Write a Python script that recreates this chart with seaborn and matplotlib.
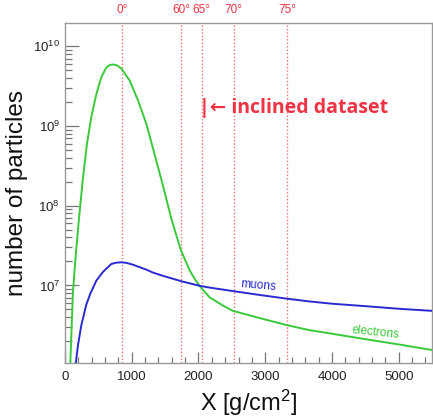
import numpy as np
import pandas as pd
import matplotlib
matplotlib.use("Agg")
import matplotlib.pyplot as plt
import seaborn as sns
from matplotlib.ticker import MultipleLocator, LogLocator

# ---- data ----
elec_x = [70, 80, 120, 160, 210, 270, 330, 395, 470, 545, 620, 670, 720, 780, 845, 970, 1093,
          1218, 1343, 1467, 1593, 1735, 1867, 1960, 2042, 2166, 2365, 2515, 2915, 3338, 3663,
          4000, 4500, 5000, 5500]
elec_n = [8.0e5, 1.07e6, 8.3e6, 2.3e7, 6.9e7, 2.24e8, 6.0e8, 1.29e9, 2.5e9, 4.1e9, 5.4e9, 5.8e9,
          5.9e9, 5.75e9, 5.25e9, 3.7e9, 2.1e9, 1.07e9, 4.4e8, 1.8e8, 6.9e7, 2.8e7, 1.55e7, 1.15e7,
          9.3e6, 7.1e6, 5.6e6, 4.8e6, 3.9e6, 3.16e6, 2.75e6, 2.48e6, 2.12e6, 1.82e6, 1.55e6]

muon_x = [150, 160, 195, 245, 320, 380, 420, 470, 570, 695, 770, 845, 920, 1018, 1218, 1318, 1467,
          1742, 2016, 2166, 2515, 2915, 3338, 3663, 4000, 4500, 5000, 5500]
muon_n = [8.5e5, 1.02e6, 1.78e6, 3.16e6, 5.75e6, 7.9e6, 9.3e6, 1.15e7, 1.48e7, 1.86e7, 1.93e7,
          1.95e7, 1.92e7, 1.82e7, 1.58e7, 1.45e7, 1.32e7, 1.13e7, 9.9e6, 9.4e6, 8.5e6, 7.6e6,
          6.8e6, 6.3e6, 5.9e6, 5.5e6, 5.1e6, 4.8e6]

angle_x = [860, 1742, 2050, 2530, 3330]
angle_labels = ["0°", "60°", "65°", "70°", "75°"]

GREEN = "#3ac93a"
BLUE = "#2a2ad0"
RED = "#ee3344"

sns.set_style("ticks")
plt.rcParams["font.family"] = ["Liberation Sans", "DejaVu Sans"]
plt.rcParams["mathtext.fontset"] = "custom"
plt.rcParams["mathtext.rm"] = "Liberation Sans"
plt.rcParams["mathtext.it"] = "Liberation Sans:italic"

fig = plt.figure(figsize=(4.33, 4.19), dpi=100)
ax = fig.add_axes([0.150, 0.134, 0.848, 0.811])

df_e = pd.DataFrame({"X": elec_x, "N": elec_n})
df_m = pd.DataFrame({"X": muon_x, "N": muon_n})

for xv in angle_x:
    ax.axvline(xv, color="#f07070", lw=1.0, ls=(0, (1, 1.5)), zorder=1)

sns.lineplot(data=df_e, x="X", y="N", ax=ax, color=GREEN, lw=1.4, zorder=3)
sns.lineplot(data=df_m, x="X", y="N", ax=ax, color=BLUE, lw=1.4, zorder=3)

ax.set_yscale("log")
ax.set_xlim(0, 5500)
ax.set_ylim(1.07e6, 1.95e10)

ax.xaxis.set_major_locator(MultipleLocator(1000))
ax.xaxis.set_minor_locator(MultipleLocator(200))
ax.yaxis.set_major_locator(LogLocator(base=10, numticks=10))
ax.yaxis.set_minor_locator(LogLocator(base=10, subs=np.arange(2, 10), numticks=50))

ax.tick_params(axis="both", which="both", direction="in", top=False, right=False,
               color="#777777", width=0.9, labelsize=9.5, labelcolor="#222222")
ax.tick_params(axis="y", which="major", length=10)
ax.tick_params(axis="y", which="minor", length=5)
ax.tick_params(axis="x", which="major", length=8, pad=6)
ax.tick_params(axis="x", which="minor", length=4)

for s in ax.spines.values():
    s.set_color("#999999")
    s.set_linewidth(1.0)

ax.set_xlabel("X [g/cm$^2$]", fontsize=17, color="#111111", labelpad=3)
ax.set_ylabel("number of particles", fontsize=17.5, color="#111111", labelpad=4)

for xv, lab in zip(angle_x, angle_labels):
    ax.text(xv, 1.02, lab, transform=ax.get_xaxis_transform(), ha="center", va="bottom",
            color=RED, fontsize=8.5)

ax.text(2010, 1.7e9, "|← inclined dataset", color=RED, fontsize=14, fontweight="bold",
        family=["Open Sans", "DejaVu Sans"], ha="left", va="center")

ax.text(2900, 1.0e7, "muons", color=BLUE, fontsize=8.5, rotation=-5, ha="center", va="center")
ax.text(4650, 2.6e6, "electrons", color=GREEN, fontsize=8.5, rotation=-6, ha="center", va="center")

fig.savefig("out.png", dpi=100)
